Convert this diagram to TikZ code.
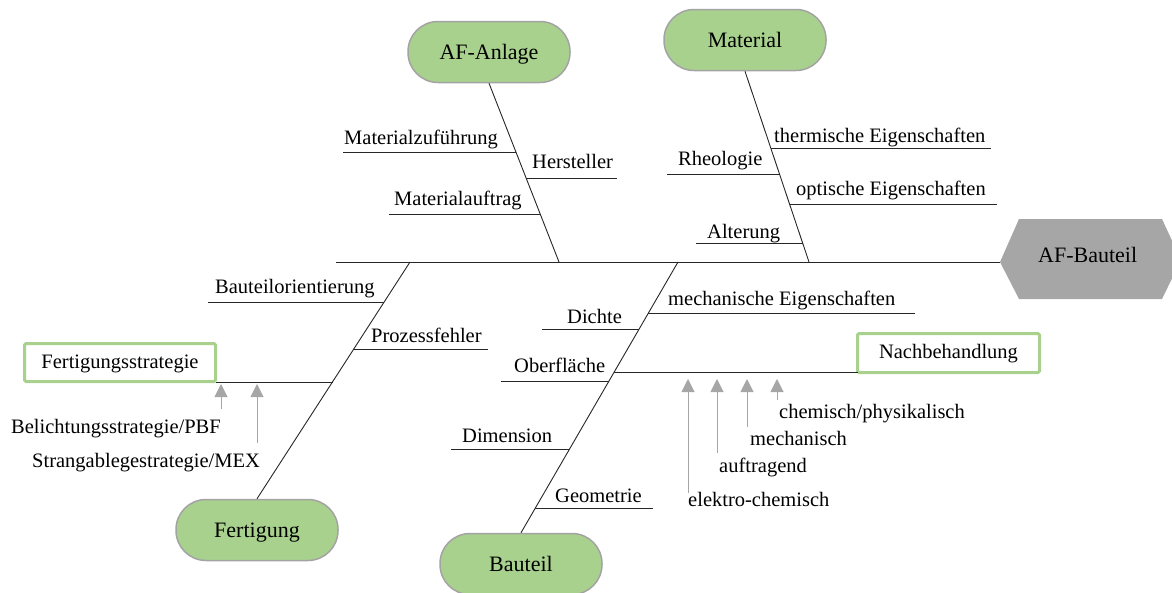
\documentclass[tikz,border=0pt]{standalone}
\usepackage{fontspec}
\setmainfont{Liberation Serif}
\usetikzlibrary{arrows.meta}
\definecolor{leaf}{HTML}{A9D18E}
\definecolor{rim}{HTML}{A3A3A3}
\definecolor{stone}{HTML}{A6A6A6}
\begin{document}
\begin{tikzpicture}[x=1pt,y=-1pt,
  bone/.style={draw=black!85, line width=0.9pt},
  twig/.style={draw=black!85, line width=0.9pt},
  lbl/.style={anchor=base west, inner sep=0pt, font=\fontsize{20.5}{24}\selectfont},
  cause/.style={draw=rim, fill=leaf, line width=1.5pt, rounded corners=30pt,
    minimum width=162pt, minimum height=61pt, inner sep=0pt,
    text height=15pt, text depth=0pt, font=\fontsize{22}{26}\selectfont},
  frame/.style={draw=leaf, line width=3pt, fill=white, rounded corners=1.5pt,
    inner sep=0pt, text height=11pt, text depth=0pt,
    font=\fontsize{20.5}{24}\selectfont},
  hint/.style={draw=stone, line width=1pt, -{Triangle[width=13pt,length=13pt]}}
]
\useasboundingbox (0,0) rectangle (1172,592);

% effect head
\fill[stone] (1000,262) -- (1019,219) -- (1162,219) -- (1181,260) -- (1162,299) -- (1019,299) -- cycle;
\coordinate (head) at (1000,262);
\node[lbl, font=\fontsize{22}{26}\selectfont] (afb) at (1038,262) {AF-Bauteil};

% spine
\coordinate (tail) at (336,262);
\draw[bone] (tail) -- (head);

% main causes
\node[cause] (anl) at (489,52) {AF-Anlage};
\node[cause] (mat) at (745,40) {Material};
\node[cause] (fer) at (257,530) {Fertigung};
\node[cause] (bau) at (521,564) {Bauteil};

\coordinate (jA) at (559,262);
\coordinate (jM) at (809,262);
\coordinate (jF) at (410,262);
\coordinate (jB) at (678,262);
\draw[bone] (anl.south) -- (jA);
\draw[bone] (mat.south) -- (jM);
\draw[bone] (fer.north) -- (jF);
\draw[bone] (bau.north) -- (jB);

% AF-Anlage branches
\coordinate (a1) at (516,152); \coordinate (a1e) at (343,152);
\coordinate (a2) at (526,178); \coordinate (a2e) at (617,178);
\coordinate (a3) at (540,214); \coordinate (a3e) at (389,214);
\draw[twig] (a1e) -- (a1);
\draw[twig] (a2) -- (a2e);
\draw[twig] (a3e) -- (a3);
\node[lbl] (t-a1) at (344,144) {Materialzuführung};
\node[lbl] (t-a2) at (532,168) {Hersteller};
\node[lbl] (t-a3) at (394,205) {Materialauftrag};

% Material branches
\coordinate (m1) at (771,148); \coordinate (m1e) at (991,148);
\coordinate (m2) at (779.5,174); \coordinate (m2e) at (667,174);
\coordinate (m3) at (790,204); \coordinate (m3e) at (997,204);
\coordinate (m4) at (802.6,243); \coordinate (m4e) at (696,243);
\draw[twig] (m1) -- (m1e);
\draw[twig] (m2e) -- (m2);
\draw[twig] (m3) -- (m3e);
\draw[twig] (m4e) -- (m4);
\node[lbl] (t-m1) at (774,142) {thermische Eigenschaften};
\node[lbl] (t-m2) at (678,165) {Rheologie};
\node[lbl] (t-m3) at (796,195) {optische Eigenschaften};
\node[lbl] (t-m4) at (707,238) {Alterung};

% Fertigung branches
\coordinate (f1) at (384,302); \coordinate (f1e) at (208,302);
\coordinate (f2) at (354,349); \coordinate (f2e) at (488,349);
\coordinate (f3) at (332.5,382);
\draw[twig] (f1e) -- (f1);
\draw[twig] (f2) -- (f2e);
\node[lbl] (t-f1) at (215,293) {Bauteilorientierung};
\node[lbl] (t-f2) at (371,342) {Prozessfehler};

\node[frame, minimum width=191pt, minimum height=38pt] (fs) at (120,362.5) {Fertigungsstrategie};
\coordinate (fsj) at (215.5,382);
\draw[twig] (fsj) -- (f3);

\coordinate (p1) at (221,409); \coordinate (p1t) at (221,384);
\coordinate (p2) at (257,443); \coordinate (p2t) at (257,384);
\draw[hint] (p1) -- (p1t);
\draw[hint] (p2) -- (p2t);
\node[lbl] (t-p1) at (11,433) {Belichtungsstrategie/PBF};
\node[lbl] (t-p2) at (32,467) {Strangablegestrategie/MEX};

% Bauteil branches
\coordinate (b1) at (648,313); \coordinate (b1e) at (915,313);
\coordinate (b2) at (639,329); \coordinate (b2e) at (542,329);
\coordinate (b3) at (608.6,381); \coordinate (b3e) at (501,381);
\coordinate (b4) at (614,372);
\coordinate (b5) at (569,449); \coordinate (b5e) at (451,449);
\coordinate (b6) at (534.6,508); \coordinate (b6e) at (653,508);
\draw[twig] (b1) -- (b1e);
\draw[twig] (b2e) -- (b2);
\draw[twig] (b3e) -- (b3);
\draw[twig] (b5e) -- (b5);
\draw[twig] (b6) -- (b6e);
\node[lbl] (t-b1) at (668,305) {mechanische Eigenschaften};
\node[lbl] (t-b2) at (567,323) {Dichte};
\node[lbl] (t-b3) at (514,372) {Oberfläche};
\node[lbl] (t-b5) at (462,442) {Dimension};
\node[lbl] (t-b6) at (555,502) {Geometrie};

\node[frame, minimum width=182pt, minimum height=39pt] (nb) at (948.5,353) {Nachbehandlung};
\coordinate (nbj) at (857.5,372);
\draw[twig] (b4) -- (nbj);

\coordinate (n1) at (688,493); \coordinate (n1t) at (688,379);
\coordinate (n2) at (717,453); \coordinate (n2t) at (717,379);
\coordinate (n3) at (747,427); \coordinate (n3t) at (747,379);
\coordinate (n4) at (777,400); \coordinate (n4t) at (777,379);
\draw[hint] (n1) -- (n1t);
\draw[hint] (n2) -- (n2t);
\draw[hint] (n3) -- (n3t);
\draw[hint] (n4) -- (n4t);
\node[lbl] (t-n4) at (779,418) {chemisch/physikalisch};
\node[lbl] (t-n3) at (750,445) {mechanisch};
\node[lbl] (t-n2) at (719,472) {auftragend};
\node[lbl] (t-n1) at (688,506) {elektro-chemisch};
\end{tikzpicture}
\end{document}
